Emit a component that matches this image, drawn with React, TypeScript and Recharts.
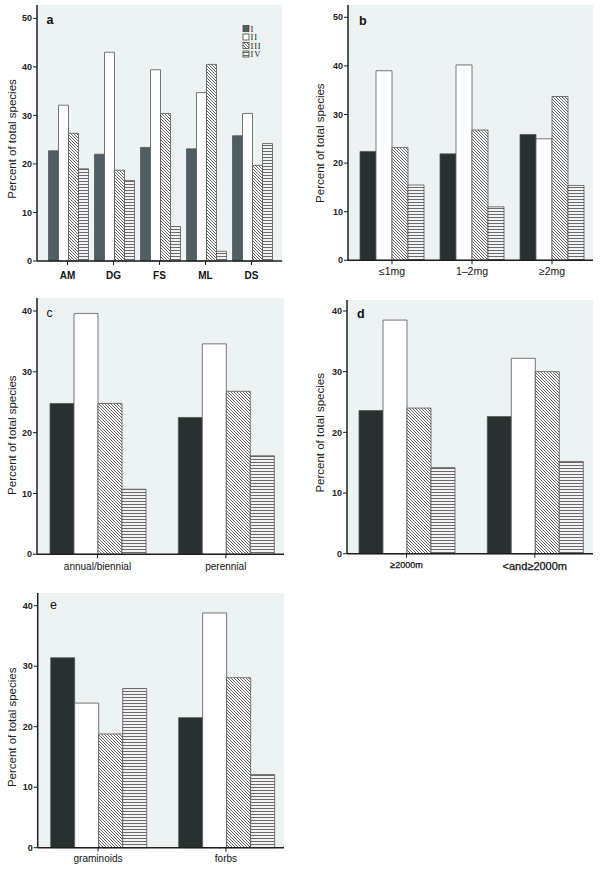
import React from 'react';
import { BarChart, Bar, XAxis, YAxis, CartesianGrid } from 'recharts';

// ---------- data ----------
const seriesNames = ['I', 'II', 'III', 'IV'];

const catsA = ['AM', 'DG', 'FS', 'ML', 'DS'];
const aI = [22.7, 22.0, 23.4, 23.1, 25.8];
const aII = [32.1, 43.0, 39.4, 34.7, 30.4];
const aIII = [26.3, 18.7, 30.4, 40.5, 19.7];
const aIV = [19.0, 16.6, 7.1, 2.0, 24.2];

const catsB = ['≤1mg', '1–2mg', '≥2mg'];
const bI = [22.4, 21.9, 25.9];
const bII = [39.0, 40.2, 25.0];
const bIII = [23.2, 26.8, 33.7];
const bIV = [15.5, 11.0, 15.4];

const catsC = ['annual/biennial', 'perennial'];
const cI = [24.8, 22.5];
const cII = [39.6, 34.6];
const cIII = [24.8, 26.8];
const cIV = [10.7, 16.2];

const catsD = ['≥2000m', '<and≥2000m'];
const dI = [23.6, 22.6];
const dII = [38.5, 32.2];
const dIII = [24.0, 30.0];
const dIV = [14.2, 15.2];

const catsE = ['graminoids', 'forbs'];
const eI = [31.4, 21.5];
const eII = [23.9, 38.8];
const eIII = [18.8, 28.1];
const eIV = [26.3, 12.1];

const ticks50 = [0, 10, 20, 30, 40, 50];
const ticks40 = [0, 10, 20, 30, 40];

const yLabelText = 'Percent of total species';

function rows(cats: string[], s1: number[], s2: number[], s3: number[], s4: number[]) {
  return cats.map((c, i) => ({ cat: c, I: s1[i], II: s2[i], III: s3[i], IV: s4[i] }));
}

const dataA = rows(catsA, aI, aII, aIII, aIV);
const dataB = rows(catsB, bI, bII, bIII, bIV);
const dataC = rows(catsC, cI, cII, cIII, cIV);
const dataD = rows(catsD, dI, dII, dIII, dIV);
const dataE = rows(catsE, eI, eII, eIII, eIV);

// ---------- styles ----------
const BG = '#edf3f3';
const AXIS = '#1e1e1e';
const BAR_STROKE = '#555';
const FILL_I_A = '#4f5e62';
const FILL_I = '#293030';
const dTickStyles = [
  { fontSize: 9, fontWeight: 'normal' },
  { fontSize: 11, fontWeight: 'normal' },
];

function makeYLabel(offX: number, dY: number) {
  return (props: any) => {
    const vb = props.viewBox || {};
    const cx = vb.x + offX;
    const cy = vb.y + vb.height / 2 + dY;
    return (
      <text
        x={cx}
        y={cy}
        transform={`rotate(-90 ${cx} ${cy})`}
        textAnchor="middle"
        dominantBaseline="central"
        fontSize={11.5}
        fill="#222"
      >
        {yLabelText}
      </text>
    );
  };
}

function DTick(props: any) {
  const { x, y, payload, index } = props;
  const st = dTickStyles[index] || dTickStyles[0];
  return (
    <text x={x} y={y} dy="0.71em" textAnchor="middle" fontSize={st.fontSize} fontWeight={st.fontWeight as any} fill="#111" stroke="#111" strokeWidth={0.25}>
      {payload.value}
    </text>
  );
}

type PanelProps = {
  data: any[];
  left: number;
  top: number;
  width: number;
  height: number;
  margin: { top: number; right: number; bottom: number; left: number };
  yWidth: number;
  xHeight: number;
  yMax: number;
  yTicks: number[];
  xPad: { left: number; right: number };
  gap: number;
  fillI: string;
  xTick: any;
  xTickMargin: number;
  labelOffX: number;
  labelDY: number;
};

function Panel(p: PanelProps) {
  const fills = [p.fillI, '#ffffff', 'url(#hatchDiag)', 'url(#hatchHoriz)'];
  return (
    <div style={{ position: 'absolute', left: p.left, top: p.top, width: p.width, height: p.height }}>
      <BarChart
        width={p.width}
        height={p.height}
        data={p.data}
        margin={p.margin}
        barGap={0}
        barCategoryGap={p.gap}
      >
        <CartesianGrid fill={BG} stroke="none" horizontal={false} vertical={false} />
        <XAxis
          dataKey="cat"
          type="category"
          interval={0}
          height={p.xHeight}
          padding={p.xPad}
          tickSize={4}
          tickMargin={p.xTickMargin}
          tick={p.xTick}
          tickLine={{ stroke: AXIS, strokeWidth: 1 }}
          axisLine={{ stroke: AXIS, strokeWidth: 1.5 }}
        />
        <YAxis
          type="number"
          width={p.yWidth}
          domain={[0, p.yMax]}
          ticks={p.yTicks}
          interval={0}
          tickSize={4}
          tickMargin={1}
          tick={{ fontSize: 9, fontWeight: 'bold', fill: '#222' }}
          tickLine={{ stroke: AXIS, strokeWidth: 1 }}
          axisLine={{ stroke: AXIS, strokeWidth: 1.5 }}
          label={makeYLabel(p.labelOffX, p.labelDY)}
        />
        {seriesNames.map((s, i) => (
          <Bar
            key={s}
            dataKey={s}
            fill={fills[i]}
            stroke={BAR_STROKE}
            strokeWidth={0.8}
            isAnimationActive={false}
          />
        ))}
      </BarChart>
    </div>
  );
}

const legendRowsY = [25.5, 34, 42.5, 51];
const legendFills = [FILL_I_A, '#ffffff', 'url(#hatchDiag)', 'url(#hatchHoriz)'];

export default function App() {
  return (
    <div
      style={{
        position: 'absolute',
        left: 0,
        top: 0,
        width: 602,
        height: 870,
        background: '#fff',
        fontFamily: '"Liberation Sans", Arial, Helvetica, sans-serif',
        overflow: 'hidden',
      }}
    >
      <Panel
        data={dataA}
        left={0}
        top={0}
        width={300}
        height={300}
        margin={{ top: 5, right: 18, bottom: 9, left: 0 }}
        yWidth={37}
        xHeight={30}
        yMax={52.74}
        yTicks={ticks50}
        xPad={{ left: 7.5, right: 7.5 }}
        gap={4}
        fillI={FILL_I_A}
        xTick={{ fontSize: 10, fontWeight: 'bold', fill: '#111' }}
        xTickMargin={6.5}
        labelOffX={12}
        labelDY={6}
      />
      <Panel
        data={dataB}
        left={300}
        top={0}
        width={302}
        height={300}
        margin={{ top: 5, right: 9, bottom: 9.7, left: 0 }}
        yWidth={48}
        xHeight={30}
        yMax={52.53}
        yTicks={ticks50}
        xPad={{ left: 4, right: 1 }}
        gap={8}
        fillI={FILL_I}
        xTick={{ fontSize: 10.5, fontWeight: 'normal', fill: '#111' }}
        xTickMargin={3}
        labelOffX={20}
        labelDY={10.5}
      />
      <Panel
        data={dataC}
        left={0}
        top={290}
        width={300}
        height={300}
        margin={{ top: 8, right: 16, bottom: 5.7, left: 0 }}
        yWidth={37}
        xHeight={30}
        yMax={42.14}
        yTicks={ticks40}
        xPad={{ left: -3.65, right: -5.95 }}
        gap={16.65}
        fillI={FILL_I}
        xTick={{ fontSize: 10, fontWeight: 'normal', fill: '#111' }}
        xTickMargin={4.4}
        labelOffX={12}
        labelDY={9}
      />
      <Panel
        data={dataD}
        left={300}
        top={290}
        width={302}
        height={300}
        margin={{ top: 10, right: 9, bottom: 6.3, left: 0 }}
        yWidth={47}
        xHeight={30}
        yMax={41.81}
        yTicks={ticks40}
        xPad={{ left: -4.65, right: -5.95 }}
        gap={16.65}
        fillI={FILL_I}
        xTick={<DTick />}
        xTickMargin={4}
        labelOffX={20}
        labelDY={6}
      />
      <Panel
        data={dataE}
        left={0}
        top={585}
        width={300}
        height={285}
        margin={{ top: 8, right: 16, bottom: 2.3, left: 0 }}
        yWidth={37.7}
        xHeight={20}
        yMax={42.1}
        yTicks={ticks40}
        xPad={{ left: -3.65, right: -5.95 }}
        gap={16.65}
        fillI={FILL_I}
        xTick={{ fontSize: 10, fontWeight: 'normal', fill: '#111' }}
        xTickMargin={3.3}
        labelOffX={12}
        labelDY={7}
      />
      <svg
        width={602}
        height={870}
        style={{ position: 'absolute', left: 0, top: 0, pointerEvents: 'none' }}
      >
        <defs>
          <pattern id="hatchDiag" patternUnits="userSpaceOnUse" width="3" height="3">
            <rect width="3" height="3" fill="#ffffff" />
            <path d="M0,0 L3,3 M-1,2 L1,4 M2,-1 L4,1" stroke="#555" strokeWidth="0.9" />
          </pattern>
          <pattern id="hatchHoriz" patternUnits="userSpaceOnUse" width="4" height="3">
            <rect width="4" height="3" fill="#f2f2f2" />
            <line x1="0" y1="1.5" x2="4" y2="1.5" stroke="#6a6a6a" strokeWidth="1" />
          </pattern>
        </defs>
        <text x={46.5} y={23.5} fontSize={12.5} fontWeight="bold" fill="#111">a</text>
        <text x={359} y={25} fontSize={12.5} fontWeight="bold" fill="#111">b</text>
        <text x={46.5} y={316.7} fontSize={12} fill="#111">c</text>
        <text x={357} y={318.3} fontSize={12.5} fontWeight="bold" fill="#111">d</text>
        <text x={50} y={609.3} fontSize={12.5} fill="#111">e</text>
        {seriesNames.map((s, i) => (
          <g key={s}>
            <rect
              x={243}
              y={legendRowsY[i]}
              width={6}
              height={6}
              fill={legendFills[i]}
              stroke="#444"
              strokeWidth={0.8}
            />
            <text
              x={250.5}
              y={legendRowsY[i] + 6}
              fontSize={8.5}
              fontFamily='"Liberation Serif", "Times New Roman", serif'
              letterSpacing={0.8}
              fill="#222"
            >
              {s}
            </text>
          </g>
        ))}
      </svg>
    </div>
  );
}
